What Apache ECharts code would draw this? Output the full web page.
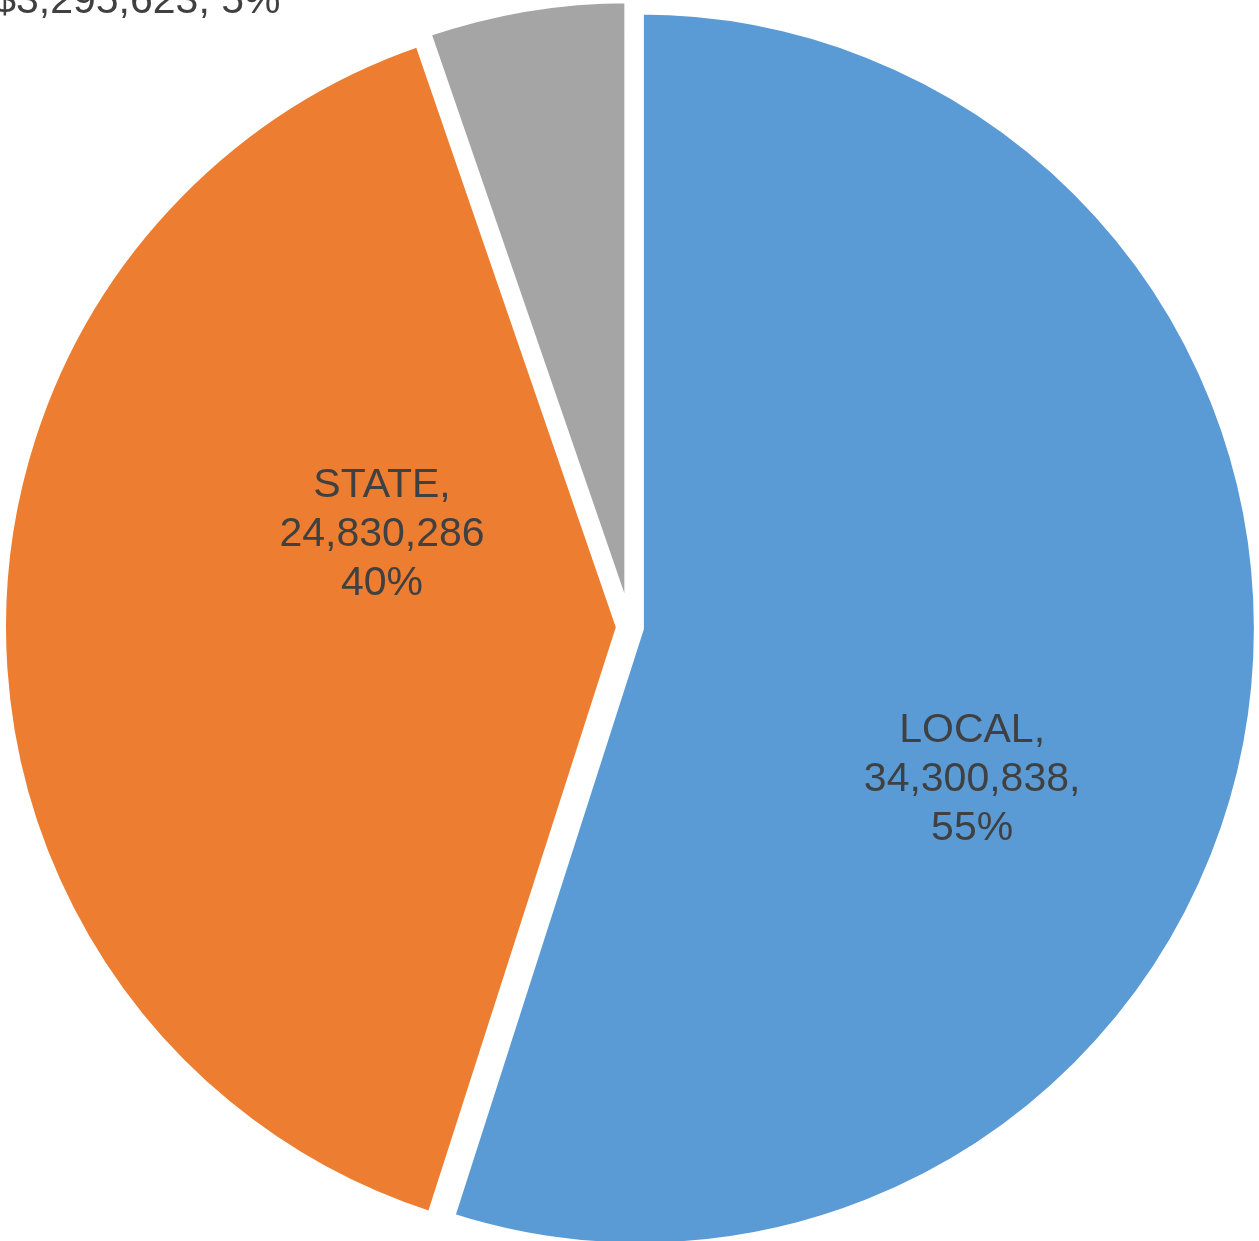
<!DOCTYPE html>
<html>
<head>
<meta charset="utf-8">
<script src="https://cdn.jsdelivr.net/npm/echarts@6/dist/echarts.min.js"></script>
<style>
  html, body { margin: 0; padding: 0; background: #ffffff; }
  #chart { width: 1259px; height: 1241px; }
</style>
</head>
<body>
<div id="chart"></div>
<script>
// Data
const categories = ['LOCAL', 'STATE', 'FEDERAL'];
const values = [34300838, 24830286, 3295623];
const colors = ['#5B9BD5', '#ED7D31', '#A5A5A5'];
// label nudges from the default inside position (style, not data)
const labelShift = [[24, 103], [74, -96], [-440, -332]];

function fmt(n) { return n.toLocaleString('en-US'); }

const labelTexts = {
  LOCAL: p => p.name + ',\n' + fmt(p.value) + ',\n' + p.percent + '%',
  STATE: p => p.name + ',\n' + fmt(p.value) + '\n' + p.percent + '%',
  FEDERAL: p => p.name + ',\n$' + fmt(p.value) + ', ' + p.percent + '%'
};

const data = categories.map((c, i) => ({
  name: c,
  value: values[i],
  selected: true,
  itemStyle: { color: colors[i] }
}));

const chart = echarts.init(document.getElementById('chart'), null, { renderer: 'canvas' });
chart.setOption({
  animation: false,
  backgroundColor: '#ffffff',
  series: [{
    type: 'pie',
    center: [630, 627],
    radius: [0, 618],
    startAngle: 90,
    clockwise: true,
    selectedMode: 'multiple',
    selectedOffset: 10,
    percentPrecision: 0,
    avoidLabelOverlap: false,
    itemStyle: { borderColor: '#ffffff', borderWidth: 8 },
    label: {
      show: true,
      position: 'inside',
      color: '#404040',
      fontFamily: '"Liberation Sans", Arial, sans-serif',
      fontSize: 41,
      lineHeight: 49,
      formatter: p => labelTexts[p.name](p)
    },
    labelLayout: function (params) {
      const s = labelShift[params.dataIndex];
      return { dx: s[0], dy: s[1] };
    },
    labelLine: { show: false },
    emphasis: { disabled: true },
    select: { itemStyle: { borderColor: '#ffffff', borderWidth: 8 } },
    data: data
  }]
});
</script>
</body>
</html>
